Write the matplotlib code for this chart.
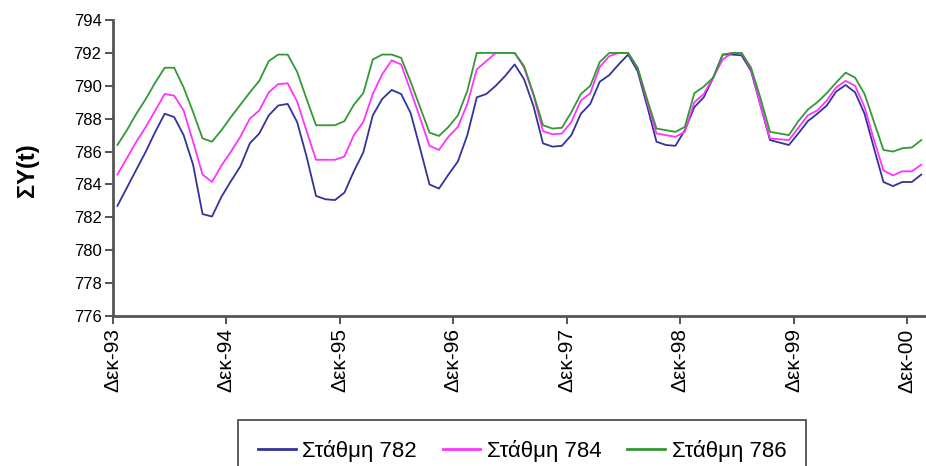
import numpy as np
import matplotlib
matplotlib.use("Agg")
import matplotlib.pyplot as plt

# Monthly water-level sums, starting December 1993
tick_labels = ["Δεκ-93", "Δεκ-94", "Δεκ-95", "Δεκ-96",
               "Δεκ-97", "Δεκ-98", "Δεκ-99", "Δεκ-00"]

stathmi_782 = [
    782.7, 783.8, 784.9, 786.0, 787.2, 788.3, 788.1, 787.0, 785.2, 782.2, 782.05, 783.25,
    784.2, 785.1, 786.5, 787.1, 788.2, 788.8, 788.9, 787.8, 785.7, 783.3, 783.1, 783.05,
    783.5, 784.8, 785.95, 788.2, 789.2, 789.75, 789.5, 788.35, 786.2, 784.0, 783.75, 784.6,
    785.4, 787.0, 789.3, 789.5, 790.0, 790.6, 791.3, 790.4, 788.75, 786.5, 786.3, 786.35,
    787.0, 788.3, 788.9, 790.25, 790.65, 791.3, 791.9, 790.9, 788.8, 786.6, 786.4, 786.35,
    787.3, 788.7, 789.3, 790.5, 791.9, 791.9, 791.85, 790.9, 788.8, 786.7, 786.55, 786.4,
    787.1, 787.85, 788.3, 788.8, 789.65, 790.05, 789.6, 788.3, 786.2, 784.15, 783.9, 784.15,
    784.15, 784.6,
]

stathmi_784 = [
    784.6, 785.6, 786.6, 787.5, 788.5, 789.5, 789.4, 788.5, 786.6, 784.6, 784.15, 785.15,
    786.0, 786.9, 788.0, 788.5, 789.6, 790.1, 790.15, 789.05, 787.25, 785.5, 785.5, 785.5,
    785.7, 787.0, 787.8, 789.5, 790.7, 791.55, 791.3, 789.7, 788.05, 786.35, 786.1, 786.9,
    787.5, 788.9, 791.0, 791.5, 792.0, 792.0, 792.0, 791.1, 789.4, 787.25, 787.05, 787.1,
    787.8, 789.1, 789.55, 791.15, 791.8, 792.0, 792.0, 791.1, 789.05, 787.1, 787.0, 786.9,
    787.2, 789.0, 789.5, 790.5, 791.6, 792.0, 792.0, 791.0, 788.8, 786.8, 786.75, 786.7,
    787.45, 788.2, 788.5, 789.1, 789.9, 790.3, 790.0, 788.7, 786.7, 784.85, 784.55, 784.8,
    784.8, 785.2,
]

stathmi_786 = [
    786.4, 787.3, 788.3, 789.2, 790.2, 791.1, 791.1, 789.9, 788.4, 786.8, 786.6, 787.3,
    788.1, 788.85, 789.6, 790.3, 791.5, 791.9, 791.9, 790.85, 789.2, 787.6, 787.6, 787.6,
    787.85, 788.85, 789.55, 791.6, 791.9, 791.9, 791.7, 790.25, 788.7, 787.15, 786.95, 787.5,
    788.2, 789.7, 792.0, 792.0, 792.0, 792.0, 792.0, 791.2, 789.5, 787.6, 787.4, 787.45,
    788.4, 789.5, 790.0, 791.45, 792.0, 792.0, 792.0, 791.1, 789.2, 787.4, 787.3, 787.2,
    787.5, 789.55, 789.95, 790.5, 791.9, 792.0, 792.0, 791.1, 789.25, 787.2, 787.1, 787.0,
    787.85, 788.55, 789.0, 789.55, 790.2, 790.8, 790.5, 789.5, 787.8, 786.1, 786.0, 786.2,
    786.25, 786.7,
]

series_names = ["Στάθμη 782", "Στάθμη 784", "Στάθμη 786"]
series_colors = ["#333399", "#ff33ff", "#339933"]

plt.rcParams["font.family"] = ["Liberation Sans", "DejaVu Sans"]

fig = plt.figure(figsize=(9.26, 4.66), dpi=100)
ax = fig.add_axes([0.1217, 0.3219, 0.8773, 0.6351])

# months counted from the December 1993 tick; readings sit mid-month
months = np.arange(len(stathmi_782)) + 0.5
for vals, name, col in zip([stathmi_782, stathmi_784, stathmi_786],
                           series_names, series_colors):
    ax.plot(months, vals, color=col, lw=1.3, label=name)

ax.set_xlim(0, 85.9)
ax.set_ylim(776, 794)
ax.set_yticks(np.arange(776, 795, 2))
ax.set_xticks(np.arange(0, 12 * len(tick_labels), 12))
ax.set_xticklabels(tick_labels, rotation=90, fontsize=15)
ax.tick_params(axis="y", labelsize=12, length=6, width=1.3, color="#444444", pad=2)
ax.tick_params(axis="x", length=6, width=1.3, color="#444444", pad=3)

for side in ["top", "right"]:
    ax.spines[side].set_visible(False)
for side in ["left", "bottom"]:
    ax.spines[side].set_color("#555555")
    ax.spines[side].set_linewidth(2.0)

fig.text(0.030, 0.635, "ΣΥ(t)", rotation=90, fontsize=17, fontweight="bold",
         ha="center", va="center")

leg = fig.legend(loc="upper left", bbox_to_anchor=(238 / 926, 1 - 420 / 466),
                 ncol=3, frameon=True, fancybox=False, fontsize=16,
                 handlelength=1.7, handletextpad=0.3, columnspacing=1.15,
                 borderpad=0.9, borderaxespad=0)
leg.get_frame().set_edgecolor("#222222")
leg.get_frame().set_linewidth(1.3)
for line in leg.get_lines():
    line.set_linewidth(2.0)

fig.savefig("out.png", dpi=100)
